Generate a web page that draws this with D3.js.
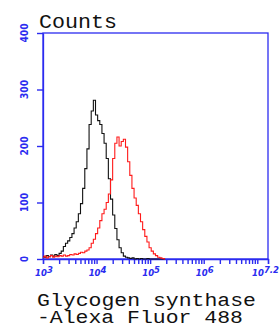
<!DOCTYPE html>
<html><head><meta charset="utf-8">
<script src="https://cdn.jsdelivr.net/npm/d3@7"></script>
<style>body{margin:0;background:#fff}svg{display:block}</style>
</head><body>
<script>
// channel positions (log10 of fluorescence)
const channels = [3.00,3.04,3.08,3.12,3.16,3.20,3.24,3.28,3.32,3.36,3.40,3.44,3.48,3.52,3.56,3.60,3.64,3.68,3.72,3.76,3.80,3.84,3.88,3.92,3.96,4.00,4.04,4.08,4.12,4.16,4.20,4.24,4.28,4.32,4.36,4.40,4.44,4.48,4.52,4.56,4.60,4.64,4.68,4.72,4.76,4.80,4.84,4.88,4.92,4.96,5.00,5.04,5.08,5.12,5.16,5.20,5.24,5.28];
const controlCounts = [4,3,6,4,7,5,8,6,10,14,22,28,32,38,45,55,66,80,98,125,160,195,238,262,281,255,245,238,222,205,178,142,106,78,54,34,20,11,5,3,2,1,2,0,1,0,1,0,0,1,0,0,0,0,0,0,0,0];
const sampleCounts = [3,5,2,4,6,3,5,4,6,5,7,5,6,8,7,9,8,10,12,11,14,16,20,28,35,45,55,68,80,88,100,115,140,178,205,216,200,208,212,198,172,148,125,108,95,80,66,52,40,30,20,14,9,6,3,2,1,0];
const yTicks = [0,100,200,300,400];
const xMajorExp = ["3","4","5","6","7.2"];
const yTitle = "Counts";
const xTitle = ["Glycogen synthase","-Alexa Fluor 488"];

const W = 279, H = 335;
const blue = "#2b2bf0";
const svg = d3.select("body").append("svg").attr("width", W).attr("height", H);

const x = d3.scaleLog().domain([1e3, Math.pow(10, 7.2)]).range([43, 268]);
const y = d3.scaleLinear().domain([0, 400]).range([259, 33]);

// frame
svg.append("rect").attr("x", x.range()[0]).attr("y", y(400))
  .attr("width", x.range()[1] - x.range()[0]).attr("height", y(0) - y(400))
  .attr("fill", "none").attr("stroke", blue).attr("stroke-width", 1.3);

// x axis ticks
const minor = [];
for (let d = 3; d <= 7; d++) for (let m = 1; m <= 9; m++) { const v = m * Math.pow(10, d); if (v <= Math.pow(10,7.2)) minor.push(v); }
minor.push(Math.pow(10, 7.2));
const xAxis = d3.axisBottom(x).tickValues(minor).tickFormat("").tickSizeOuter(0).tickSize(5);
const gx = svg.append("g").attr("transform", `translate(0,${y(0)})`).call(xAxis);
gx.selectAll("line").attr("stroke", blue).attr("stroke-width", 1.4);
gx.select(".domain").attr("stroke", blue).attr("stroke-width", 1.3);

// x labels
xMajorExp.forEach((e, i) => {
  const last = i === xMajorExp.length - 1;
  const t = svg.append("text").attr("x", last ? 279 : x(Math.pow(10, +e)) + 1).attr("y", 276)
    .attr("text-anchor", last ? "end" : "middle").attr("fill", blue)
    .attr("font-family", "DejaVu Sans").attr("font-size", 8.5).attr("font-style", "italic").attr("font-weight", "bold");
  t.append("tspan").text("10");
  t.append("tspan").attr("dy", -3).attr("font-size", 8.5).text(e);
});

// y axis
const yAxis = d3.axisLeft(y).tickValues(yTicks).tickSize(6).tickSizeOuter(0).tickFormat("");
const gy = svg.append("g").attr("transform", `translate(${x.range()[0]},0)`).call(yAxis);
gy.selectAll("line").attr("stroke", blue).attr("stroke-width", 1.4);
gy.select(".domain").attr("stroke", blue).attr("stroke-width", 1.3);
yTicks.forEach(v => {
  const s = String(v);
  svg.append("text").attr("transform", `translate(27.5,${y(v)}) rotate(-90)`)
    .attr("text-anchor", "middle").attr("fill", blue)
    .attr("font-family", "DejaVu Sans Condensed, DejaVu Sans").attr("font-weight", "bold").attr("font-size", 10)
    .attr("textLength", s.length === 1 ? 6 : 19).attr("lengthAdjust", "spacingAndGlyphs")
    .text(s);
});

// curves
const line = d3.line().x(d => x(Math.pow(10, d[0]))).y(d => y(d[1])).curve(d3.curveStep);
svg.append("path").datum(channels.map((c, i) => [c, controlCounts[i]]))
  .attr("d", line).attr("fill", "none").attr("stroke", "#111").attr("stroke-width", 1.1);
svg.append("path").datum(channels.map((c, i) => [c, sampleCounts[i]]))
  .attr("d", line).attr("fill", "none").attr("stroke", "#ff1a1a").attr("stroke-width", 1.1);

// titles
const font = "Liberation Mono, Courier New, monospace";
svg.append("text").attr("x", 39).attr("y", 28).attr("font-family", font).attr("font-size", 20)
  .attr("textLength", 78).attr("lengthAdjust", "spacingAndGlyphs").attr("fill", "#111").text(yTitle);
const lens = [219, 206];
xTitle.forEach((s, i) => {
  svg.append("text").attr("x", 37).attr("y", 305.5 + i * 17.5).attr("font-family", font)
    .attr("font-size", 18.5).attr("textLength", lens[i]).attr("lengthAdjust", "spacingAndGlyphs")
    .attr("fill", "#111").text(s);
});
</script>
</body></html>
